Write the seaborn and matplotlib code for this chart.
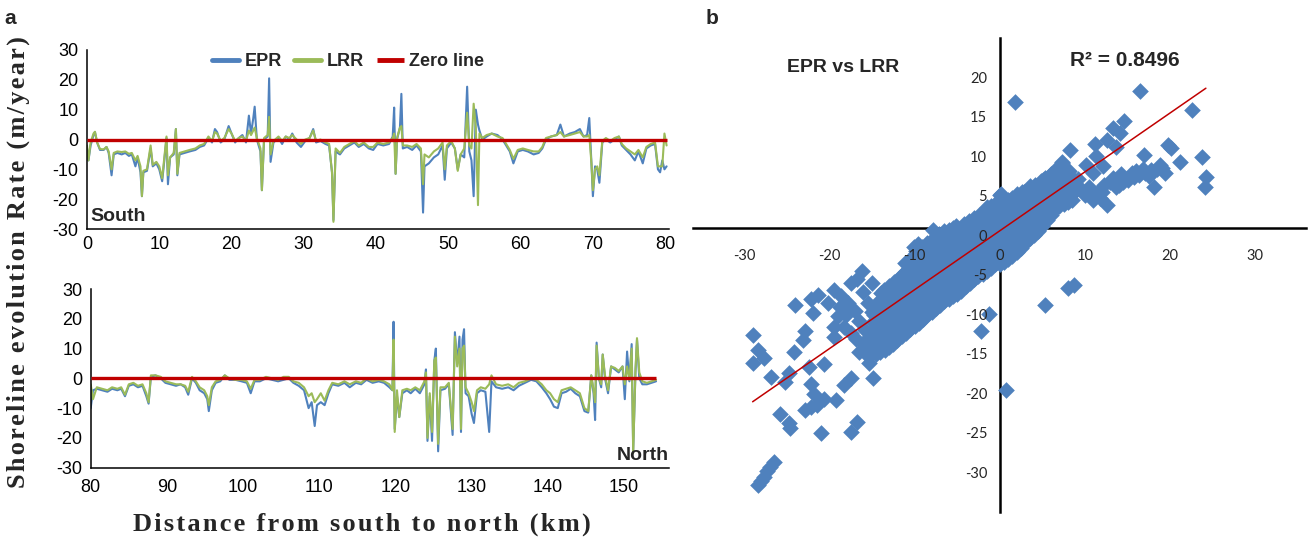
import numpy as np
import pandas as pd
import matplotlib
matplotlib.use("Agg")
import matplotlib.pyplot as plt
import seaborn as sns

BLUE = '#4F81BD'
GREEN = '#9BBB59'
RED = '#C00000'

# panel a, southern stretch (km, m/year)
south_km = [0.0, 0.2, 0.5, 0.9, 1.1, 1.4, 1.8, 2.3, 2.7, 3.0, 3.4, 3.7, 4.2, 4.8, 5.3, 5.8, 6.2, 6.7,
            7.0, 7.4, 7.6, 7.8, 8.3, 8.8, 9.1, 9.6, 10.0, 10.4, 10.7, 11.0, 11.2, 11.5, 12.0, 12.3,
            12.5, 12.8, 13.5, 14.2, 15.0, 15.6, 16.2, 16.8, 17.3, 17.7, 18.0, 18.5, 19.0, 19.6, 20.0,
            20.5, 21.0, 21.5, 22.0, 22.4, 22.7, 23.0, 23.2, 23.5, 24.0, 24.2, 24.5, 25.0, 25.2, 25.4,
            25.8, 26.5, 27.0, 27.5, 28.0, 28.4, 29.0, 29.6, 30.2, 30.8, 31.3, 31.7, 32.3, 33.0, 33.5,
            33.9, 34.1, 34.4, 35.0, 35.6, 36.3, 37.0, 37.6, 38.3, 39.0, 39.6, 40.2, 41.0, 41.8, 42.3,
            42.5, 42.7, 42.9, 43.3, 43.5, 43.7, 44.3, 45.0, 45.6, 46.2, 46.5, 46.7, 47.3, 48.0, 48.6,
            49.2, 49.5, 49.8, 50.4, 50.9, 51.3, 51.7, 52.2, 52.6, 52.9, 53.2, 53.5, 53.8, 54.1, 54.3,
            54.7, 55.3, 56.0, 56.8, 57.5, 58.0, 58.5, 59.0, 59.6, 60.3, 61.0, 61.8, 62.5, 63.0, 63.5,
            64.2, 65.0, 65.5, 66.0, 66.8, 67.5, 68.2, 68.7, 69.2, 69.5, 69.8, 70.0, 70.3, 70.6, 70.9,
            71.3, 71.8, 72.4, 73.0, 73.6, 74.0, 74.6, 75.2, 75.8, 76.3, 76.9, 77.4, 78.0, 78.6, 79.0,
            79.3, 79.6, 79.9, 80.2]
south_epr = [-3, -7, -2, 1.5, 2.5, -1, -3.5, -3.5, -2.5, -4.5, -12, -5, -4.5, -5, -4.5, -5.5, -5, -9,
             -6, -11, -19, -11, -10.5, -3, -9, -8, -10, -14, -7, 0.5, -15, -6, -5, 3.5,
             -12, -5, -4.5, -4, -3.5, -2.5, -2, 0.5, -1, 3.5, 2.5, -1, 0, 4.5, 2,
             -1, 0.5, 1.5, -1, 8, 2, 7, 11, 0, -4, -17, 0, 1, 20.5, -7.5,
             -1, 0.5, -1.5, 1, 0, 2, -1, -2.5, -0.5, 0.5, 3.5, -1, -0.5, -1.5, -2,
             -11, -27, -4, -5, -3, -2, -1, -2.5, -1.5, -3, -3.5, -1.5, -2, -1.5, 1,
             10.7, -11.5, 0, 4, 15.3, -3, -2.5, -3.5, -2, -4, -24.5, -9, -8, -6, -5,
             -2, -13.5, -3, -1, -3, -10, -5, -6, 17.7, -4, -7, -19, 10, 5, 3,
             0, 1, 2, 1.5, 0, -2, -4, -8, -4, -3.5, -4, -5, -4.5, -3, 0,
             1, 1.5, 5, 1, 2, 2.5, 3.5, 1, 1.5, 7.2, -8, -19, -9, -10, -14.5,
             -1, 0, -1, 0, 1, -2, -3.5, -5, -7, -4, -8, -3, -2, -1.5, -10,
             -11, -7, -10, -9]
south_lrr = [-2, -7, -1, 2.0, 2.6, -1, -3.2, -3.3, -2.5, -4, -10, -4.5, -4, -4.2, -4, -4.8, -4.5, -7,
             -5.5, -9, -19, -10.5, -10, -2, -8.5, -7.5, -9, -13, -6, 1.0, -12, -6, -4.5, 3.5,
             -11.5, -4.5, -4, -3.5, -3, -2, -1.5, 1.0, -0.5, 2.5, 2.0, -0.5, 0.5, 3.5, 2,
             -0.5, 0.5, 1, -0.5, 3, 1.5, 3, 4, 0.5, -3, -17, 0.5, 1.5, 7.6, -5,
             -0.5, 1, -0.5, 1, 0.5, 1.5, 0, -1.5, 0, 0.5, 3, -0.5, 0, -1, -1.5,
             -11, -27.6, -3, -4.5, -2.5, -1.5, -0.5, -2, -1, -2.5, -2.5, -1, -1.5, -1, 0.5,
             2, -11.5, 0.5, 4, 4.5, -2, -2, -2.5, -1.5, -3, -15, -5, -6, -4, -3,
             -1, -10, -2, -0.5, -3, -10.5, -5, -3, 9, -2, -3, 12, 4, -22, 2,
             0.5, 1.5, 2, 1, 0.5, -1.5, -3.5, -6.5, -3.5, -3, -3.5, -4, -4, -2.5, 0.5,
             1, 1.5, 2.5, 1, 1.5, 2, 2.5, 1, 1, 1.5, -8, -17, -10, -9, -12,
             -0.5, 0.5, -0.5, 0.5, 1, -1.5, -3, -4, -5, -3.5, -6, -2.5, -1.5, -1, -9,
             -9, -9, 2, -2]

# panel a, northern stretch
north_km = [80.0, 80.3, 80.8, 81.5, 82.2, 82.8, 83.5, 84.0, 84.5, 85.0, 85.6, 86.2, 86.8, 87.3, 87.6,
            87.9, 88.5, 89.2, 89.8, 90.5, 91.2, 91.8, 92.4, 92.8, 93.3, 93.8, 94.3, 94.9, 95.3, 95.5,
            95.9, 96.4, 97.0, 97.6, 98.2, 99.0, 99.8, 100.5, 101.0, 101.5, 102.2, 103.0, 103.8, 104.6,
            105.3, 106.0, 106.6, 107.3, 108.0, 108.6, 109.0, 109.4, 109.7, 110.2, 110.7, 111.2, 111.7,
            112.5, 113.3, 114.0, 114.8, 115.5, 116.2, 117.0, 117.8, 118.5, 119.2, 119.6, 119.75, 119.9,
            120.2, 120.5, 120.9, 121.5, 122.0, 122.6, 123.2, 123.8, 124.0, 124.2, 124.5, 124.8, 125.1,
            125.3, 125.6, 125.9, 126.5, 127.0, 127.5, 127.8, 128.1, 128.4, 128.6, 128.8, 129.0, 129.2,
            129.6, 130.0, 130.3, 130.7, 131.2, 131.8, 132.3, 132.6, 133.2, 134.0, 134.8, 135.5, 136.2,
            137.0, 137.8, 138.5, 139.2, 139.8, 140.3, 140.8, 141.3, 141.8, 142.4, 143.0, 143.6, 144.2,
            144.8, 145.3, 145.7, 146.0, 146.2, 146.4, 146.7, 147.0, 147.2, 147.5, 147.9, 148.3, 148.8,
            149.3, 149.8, 150.1, 150.4, 150.7, 151.0, 151.2, 151.5, 151.7, 152.0, 152.4, 153.0, 153.6,
            154.2]
north_epr = [-10, -4, -3.5, -4, -4.5, -3.5, -4, -3.5, -6, -2.5, -2, -3, -2.5, -6, -8.5,
             0.5, 1, 0, -1.5, -2, -2.5, -2, -3, -5.5, 0, -1.5, -4, -5, -7, -11,
             -4, -1.5, -1, 1, -0.5, -0.5, -1, -1.5, -5, -1, -1, 0, -0.5, -1,
             -0.5, 0, -1.5, -2.5, -4, -10, -8, -16, -9, -8, -9, -5, -2,
             -2.5, -1.5, -3, -1.5, -2, -0.5, -1.5, -1, -1.5, -3, -4, 19, -17,
             -6, -13, -5, -4, -5, -3.5, -5, -2, 3, -21, -6, -21, 6,
             10, -24.5, -4, -3.5, -2, -19, 15.5, 5, 14, -18, 13, 16.5, -5,
             -6, -12, -15, -5, -4, -4.5, -18, -1, -3, -3.5, -3, -4, -2.5,
             -1.5, -0.5, -1, -3, -5, -7, -9.5, -10, -5, -4.5, -3.5, -5, -6,
             -11, -11.5, 1, -5, -14, 12, 0, -3, 8, 0, -5, 4, 3,
             2, 4, -7, 9, -1, 11.5, -24, 2, 13, 0, -2, -2, -1.5,
             -1]
north_lrr = [-2, -7, -3, -3.5, -4, -3, -3.5, -3, -5.5, -2, -1.5, -2.5, -2, -5, -8,
             1, 1, 0.5, -1, -1.5, -2, -2, -2.5, -4.5, 0.5, -1, -3, -4, -6, -9,
             -3, -1, -0.5, 1, 0, -0.5, -0.5, -1, -3.5, -0.5, -0.5, 0.5, 0, -0.5,
             0.5, 0.5, -1, -1.5, -3, -6, -5, -8, -7, -5, -7.5, -4, -1.5,
             -2, -1, -2, -1, -1.5, 0, -1, -0.5, -1, -2, -4, 13, -18,
             -4, -13, -4, -3.5, -4, -3, -4, -1, 2, -20, -5, -18, 6,
             7, -22, -3, -3, -1.5, -17, 14, 4, 10, -17, 10, 11, -3,
             -5, -8, -11, -4, -3, -3.5, -2, 1, -2, -2.5, -2, -3, -1.5,
             -1, 0, -0.5, -2, -4, -5, -7, -8, -4, -3.5, -3, -4, -5,
             -10, -11, 1, -4, -8, 11, 0, -2, 8, 1, -4, 4, 3.5,
             2.5, 4, -2, 4, -0.5, 10, -25, 3, 13.5, 2, -1, -1.5, -1,
             -0.5]

# panel b, EPR vs LRR scatter; dense core of the cloud
core_pts = [
    (-15.5, -16.2), (-15.6, -15.0), (-15.4, -14.0),
    (-14.5, -16.0), (-14.6, -14.8), (-14.4, -13.5), (-14.5, -12.2), (-14.7, -10.8), (-14.4, -9.5),
    (-13.5, -15.4), (-13.6, -14.1), (-13.4, -12.8), (-13.5, -11.5), (-13.7, -10.2), (-13.4, -9.0), (-13.6, -7.8),
    (-12.5, -14.7), (-12.4, -13.4), (-12.6, -12.1), (-12.5, -10.8), (-12.3, -9.5), (-12.6, -8.2), (-12.4, -6.8),
    (-11.5, -13.7), (-11.6, -12.4), (-11.4, -11.1), (-11.5, -9.8), (-11.7, -8.5), (-11.4, -7.2), (-11.5, -5.9),
    (-10.5, -12.8), (-10.6, -11.5), (-10.4, -10.2), (-10.5, -8.9), (-10.3, -7.6), (-10.6, -6.3), (-10.4, -5.0), (-10.2, -3.7),
    (-9.5, -12.0), (-9.6, -10.7), (-9.4, -9.4), (-9.5, -8.1), (-9.7, -6.8), (-9.4, -5.5), (-9.6, -4.2), (-9.8, -2.9), (-9.6, -2.0),
    (-8.5, -11.0), (-8.4, -9.7), (-8.6, -8.4), (-8.5, -7.1), (-8.3, -5.8), (-8.6, -4.5), (-8.4, -3.2), (-8.5, -1.9),
    (-7.5, -10.1), (-7.6, -8.8), (-7.4, -7.5), (-7.5, -6.2), (-7.7, -4.9), (-7.4, -3.6), (-7.6, -2.3), (-7.8, -0.3),
    (-6.5, -9.3), (-6.4, -8.0), (-6.6, -6.7), (-6.5, -5.4), (-6.3, -4.1), (-6.6, -2.8), (-6.4, -1.5), (-6.5, -0.4),
    (-5.5, -8.6), (-5.6, -7.3), (-5.4, -6.0), (-5.5, -4.7), (-5.7, -3.4), (-5.4, -2.1), (-5.6, -0.8), (-5.5, 0.0),
    (-4.5, -8.0), (-4.4, -6.7), (-4.6, -5.4), (-4.5, -4.1), (-4.3, -2.8), (-4.6, -1.5), (-4.4, -0.2), (-4.2, 0.5),
    (-3.5, -6.9), (-3.6, -5.6), (-3.4, -4.3), (-3.5, -3.0), (-3.7, -1.7), (-3.4, -0.4), (-3.6, 0.9),
    (-2.5, -6.1), (-2.4, -4.8), (-2.6, -3.5), (-2.5, -2.2), (-2.3, -0.9), (-2.6, 0.4), (-2.4, 1.7),
    (-1.5, -5.4), (-1.6, -4.1), (-1.4, -2.8), (-1.5, -1.5), (-1.7, -0.2), (-1.4, 1.1), (-1.5, 2.6),
    (-0.5, -4.6), (-0.4, -3.3), (-0.6, -2.0), (-0.5, -0.7), (-0.3, 0.6), (-0.6, 1.9), (-0.4, 3.2),
    (0.5, -4.3), (0.6, -3.0), (0.4, -1.7), (0.5, -0.4), (0.7, 0.9), (0.4, 2.2), (0.6, 3.5), (0.1, 4.3),
    (1.5, -3.5), (1.4, -2.2), (1.6, -0.9), (1.5, 0.4), (1.3, 1.7), (1.6, 3.0), (1.4, 3.8),
    (2.5, -2.5), (2.6, -1.2), (2.4, 0.1), (2.5, 1.4), (2.7, 2.7), (2.4, 4.0), (2.6, 4.5),
    (3.5, -1.3), (3.4, 0.0), (3.6, 1.3), (3.5, 2.6), (3.3, 3.9), (3.6, 5.3),
    (4.5, -0.4), (4.6, 0.9), (4.4, 2.2), (4.5, 3.5), (4.7, 4.8), (4.9, 6.0),
    (5.5, 1.0), (5.4, 2.3), (5.6, 3.6), (5.5, 4.9), (5.3, 6.3),
    (6.5, 2.4), (6.6, 3.7), (6.4, 5.0), (6.5, 6.3), (6.4, 7.2),
    (7.5, 3.1), (7.4, 4.4), (7.6, 5.7), (7.5, 7.0), (7.3, 8.4),
    (8.5, 3.6), (8.6, 5.0), (8.4, 6.5),
]
# in-between points of the same core
core_fill_pts = [
    (-15.0, -15.8), (-15.0, -14.5), (-15.1, -13.2), (-14.9, -11.9), (-15.0, -10.6),
    (-14.0, -15.7), (-14.0, -14.4), (-14.1, -13.1), (-13.9, -11.8), (-14.0, -10.5), (-14.1, -9.2), (-13.9, -8.2),
    (-13.0, -15.1), (-13.0, -13.8), (-12.9, -12.5), (-13.1, -11.2), (-13.0, -9.9), (-12.9, -8.6), (-13.0, -7.4),
    (-12.0, -14.2), (-12.0, -12.9), (-12.1, -11.6), (-11.9, -10.3), (-12.0, -9.0), (-12.1, -7.7), (-11.9, -6.4),
    (-11.0, -13.3), (-11.0, -12.0), (-10.9, -10.7), (-11.1, -9.4), (-11.0, -8.1), (-10.9, -6.8), (-11.0, -5.5), (-11.1, -4.4),
    (-10.0, -12.4), (-10.0, -11.1), (-10.1, -9.8), (-9.9, -8.5), (-10.0, -7.2), (-10.1, -5.9), (-9.9, -4.6), (-10.0, -3.3), (-10.1, -2.4),
    (-9.0, -11.5), (-9.0, -10.2), (-8.9, -8.9), (-9.1, -7.6), (-9.0, -6.3), (-8.9, -5.0), (-9.0, -3.7), (-9.1, -2.4),
    (-8.0, -10.6), (-8.0, -9.3), (-8.1, -8.0), (-7.9, -6.7), (-8.0, -5.4), (-8.1, -4.1), (-7.9, -2.8), (-8.0, -1.5),
    (-7.0, -9.7), (-7.0, -8.4), (-6.9, -7.1), (-7.1, -5.8), (-7.0, -4.5), (-6.9, -3.2), (-7.0, -1.9), (-7.1, -0.8),
    (-6.0, -9.0), (-6.0, -7.7), (-6.1, -6.4), (-5.9, -5.1), (-6.0, -3.8), (-6.1, -2.5), (-5.9, -1.2), (-6.0, -0.2),
    (-5.0, -8.3), (-5.0, -7.0), (-4.9, -5.7), (-5.1, -4.4), (-5.0, -3.1), (-4.9, -1.8), (-5.0, -0.5), (-5.1, 0.3),
    (-4.0, -7.4), (-4.0, -6.1), (-4.1, -4.8), (-3.9, -3.5), (-4.0, -2.2), (-4.1, -0.9), (-3.9, 0.4),
    (-3.0, -6.5), (-3.0, -5.2), (-2.9, -3.9), (-3.1, -2.6), (-3.0, -1.3), (-2.9, 0.0), (-3.0, 1.3),
    (-2.0, -5.8), (-2.0, -4.5), (-2.1, -3.2), (-1.9, -1.9), (-2.0, -0.6), (-2.1, 0.7), (-1.9, 2.0),
    (-1.0, -5.0), (-1.0, -3.7), (-0.9, -2.4), (-1.1, -1.1), (-1.0, 0.2), (-0.9, 1.5), (-1.0, 2.8),
    (0.0, -4.5), (0.0, -3.2), (0.1, -1.9), (-0.1, -0.6), (0.0, 0.7), (0.1, 2.0), (-0.1, 3.3), (0.0, 4.2),
    (1.0, -3.9), (1.0, -2.6), (0.9, -1.3), (1.1, 0.0), (1.0, 1.3), (0.9, 2.6), (1.0, 3.6),
    (2.0, -3.0), (2.0, -1.7), (2.1, -0.4), (1.9, 0.9), (2.0, 2.2), (2.1, 3.5), (2.0, 4.3),
    (3.0, -1.9), (3.0, -0.6), (2.9, 0.7), (3.1, 2.0), (3.0, 3.3), (2.9, 4.6),
    (4.0, -0.9), (4.0, 0.4), (4.1, 1.7), (3.9, 3.0), (4.0, 4.3), (4.1, 5.5),
    (5.0, 0.3), (5.0, 1.6), (4.9, 2.9), (5.1, 4.2), (5.0, 5.5), (5.1, 6.1),
    (6.0, 1.7), (6.0, 3.0), (6.1, 4.3), (5.9, 5.6), (6.0, 6.8),
    (7.0, 2.8), (7.0, 4.1), (6.9, 5.4), (7.1, 6.7), (7.0, 7.6),
    (8.0, 3.3), (8.0, 4.6), (7.9, 5.9), (8.1, 7.2),
]
# scattered points south-west of the core
low_pts = [
    (-24.0, -9.7), (-21.9, -10.8), (-22.2, -9.0), (-21.3, -8.5), (-19.4, -7.8), (-17.4, -7.0),
    (-16.2, -5.5), (-16.0, -8.1), (-17.8, -9.5), (-19.0, -11.2), (-19.4, -12.5), (-18.3, -12.5),
    (-16.1, -14.5), (-16.5, -15.7), (-16.9, -14.0), (-19.4, -13.8), (-18.6, -8.6), (-17.0, -10.5),
    (-18.0, -11.0), (-16.5, -11.8), (-17.5, -13.3), (-15.8, -12.9), (-15.0, -7.0), (-15.5, -9.5),
    (-14.8, -11.0), (-16.8, -6.5), (-18.8, -10.0), (-20.2, -9.5), (-15.3, -17.1), (-14.9, -19.0),
    (-20.6, -17.2), (-22.4, -17.6), (-22.9, -13.1), (-23.1, -14.2), (-24.2, -15.7), (-22.2, -19.7),
    (-25.2, -19.5), (-24.7, -18.4), (-26.8, -18.9), (-17.4, -19.0), (-18.3, -19.9), (-19.2, -21.8),
    (-20.6, -21.6), (-22.2, -22.6), (-22.9, -23.0), (-21.4, -22.4), (-21.8, -21.0), (-16.7, -24.5),
    (-17.5, -25.8), (-21.0, -26.0), (-24.7, -24.7), (-25.8, -23.6), (-24.6, -25.3), (-28.9, -13.5),
    (-28.4, -15.4), (-27.7, -16.5), (-29.0, -17.1), (-28.4, -32.5), (-27.7, -31.5), (-27.0, -30.2),
    (-26.5, -29.6), (-27.3, -30.8), (-28.0, -32.0),
]
# scattered points north-east of the core
high_pts = [
    (1.8, 16.0), (16.5, 17.4), (22.6, 14.9), (14.6, 13.6), (13.3, 12.6), (14.1, 12.0), (12.6, 11.1),
    (13.6, 10.3), (11.2, 10.6), (8.2, 9.9), (16.9, 9.2), (20.1, 10.1), (19.8, 10.5), (21.2, 8.3),
    (23.8, 9.0), (24.2, 6.5), (24.1, 5.2), (11.3, 9.1), (10.1, 8.0), (11.0, 6.9), (12.1, 7.8),
    (7.3, 8.2), (9.6, 5.0), (11.0, 3.5), (12.6, 2.9), (13.7, 5.2), (15.1, 6.1), (16.4, 6.7),
    (17.8, 7.3), (19.0, 7.6), (19.4, 6.9), (18.1, 5.2), (13.3, 6.3), (11.4, 4.4), (10.5, 5.2),
    (8.2, 4.0), (14.5, 5.8), (15.8, 6.4), (17.0, 7.0), (18.5, 7.5), (12.2, 5.5), (11.8, 3.8),
    (9.0, 4.8), (16.0, 7.2), (13.0, 5.8), (14.2, 6.8), (17.5, 6.6), (18.8, 8.0), (6.8, 3.5),
    (10.0, 4.2), (12.0, 4.6), (15.5, 6.9), (16.8, 7.5), (14.0, 5.4), (9.2, 6.2),
    (8.7, -7.2), (8.0, -7.6), (5.3, -9.7), (-1.3, -10.9), (-2.2, -13.1), (0.7, -20.5),
]

trend_slope = 0.746
trend_intercept = -0.36
trend_x = [-29.0, 24.2]
r_squared = 0.8496

TICK_FONT = ['Liberation Sans', 'DejaVu Sans']
SERIF = ['Liberation Serif', 'DejaVu Serif']
HAIR = '\u200a'


def spaced(text):
    # the source figure sets its axis titles with loose letter spacing
    return HAIR.join(text)


def draw_profile(ax, km, epr, lrr, xlim, xticks, tag, tag_right, x_pad, show_legend):
    df = pd.DataFrame({'km': km, 'EPR': epr, 'LRR': lrr})
    sns.lineplot(data=df, x='km', y='EPR', ax=ax, color=BLUE, lw=1.5, label='EPR',
                 estimator=None, sort=False, legend=False)
    sns.lineplot(data=df, x='km', y='LRR', ax=ax, color=GREEN, lw=1.5, label='LRR',
                 estimator=None, sort=False, legend=False)
    ax.hlines(0, min(km), max(km), color=RED, lw=2.4, zorder=5, label='Zero line')

    ax.set_xlim(*xlim)
    ax.set_ylim(-30, 30)
    ax.set_xticks(xticks)
    ax.set_xticklabels([str(t) for t in xticks], fontfamily=TICK_FONT, fontsize=13)
    yt = list(range(-30, 31, 10))
    ax.set_yticks(yt)
    ax.set_yticklabels([str(t) for t in yt], fontfamily=TICK_FONT, fontsize=13)
    ax.tick_params(axis='y', direction='out', length=4, width=1, pad=2, colors='black')
    ax.tick_params(axis='x', direction='out', length=4, width=1, pad=x_pad, colors='black')
    ax.set_xlabel('')
    ax.set_ylabel('')
    sns.despine(ax=ax)
    for side in ['left', 'bottom']:
        ax.spines[side].set_color('black')
        ax.spines[side].set_linewidth(1.1)

    if tag_right:
        ax.text(1.0, 0.02, tag, transform=ax.transAxes, ha='right', va='bottom',
                fontsize=14, fontweight='bold')
    else:
        ax.text(0.005, 0.02, tag, transform=ax.transAxes, ha='left', va='bottom',
                fontsize=14, fontweight='bold')

    if show_legend:
        leg = ax.legend(loc='center', bbox_to_anchor=(0.448, 0.935), ncol=3, frameon=False,
                        prop={'weight': 'bold', 'size': 13}, handlelength=1.5,
                        handletextpad=0.3, columnspacing=0.7, borderpad=0)
        for h in leg.get_lines():
            h.set_linewidth(3.5)


def main():
    sns.set_theme(style='white')
    plt.rcParams['font.family'] = ['Liberation Sans', 'DejaVu Sans']

    W, H = 1310, 540
    fig = plt.figure(figsize=(W / 100, H / 100), dpi=100)

    ax_s = fig.add_axes([87 / W, 1 - 229 / H, (669.5 - 87) / W, (229 - 50) / H])
    draw_profile(ax_s, south_km, south_epr, south_lrr, (0, 80.6), list(range(0, 81, 10)),
                 'South', False, 1, True)

    ax_n = fig.add_axes([90.7 / W, 1 - 467.7 / H, (669 - 90.7) / W, (467.7 - 289) / H])
    draw_profile(ax_n, north_km, north_epr, north_lrr, (80, 155.9), list(range(80, 151, 10)),
                 'North', True, 4, False)

    fig.text(18 / W, 1 - 262 / H, spaced('Shoreline evolution Rate (m/year)'), rotation=90,
             ha='center', va='center', fontsize=19, fontweight='bold', family=SERIF)
    fig.text(362 / W, 1 - 524 / H, spaced('Distance from south to north (km)'),
             ha='center', va='center', fontsize=19, fontweight='bold', family=SERIF)
    fig.text(10 / W, 1 - 19 / H, 'a', ha='center', va='center', fontsize=15, fontweight='bold')
    fig.text(712 / W, 1 - 19 / H, 'b', ha='center', va='center', fontsize=15, fontweight='bold')

    # panel b
    pts = np.array(core_pts + core_fill_pts + low_pts + high_pts)
    ax = fig.add_axes([693 / W, 1 - 512.4 / H, 613.4 / W, 474 / H])
    sns.scatterplot(x=pts[:, 0], y=pts[:, 1], ax=ax, marker='D', s=72, color=BLUE,
                    linewidth=0, alpha=1, zorder=3)
    tx = np.array(trend_x)
    ax.plot(tx, trend_slope * tx + trend_intercept, color=RED, lw=1.1, zorder=4)

    ax.set_xlim(-36, 36)
    ax.set_ylim(-36, 24)
    for side in ['top', 'right']:
        ax.spines[side].set_visible(False)
    for side in ['left', 'bottom']:
        ax.spines[side].set_position(('data', 0))
        ax.spines[side].set_color('black')
        ax.spines[side].set_linewidth(1.8)

    ax.xaxis.remove_overlapping_locs = False
    ax.yaxis.remove_overlapping_locs = False
    ax.set_xticks(list(range(-24, 37, 12)))
    ax.set_xticklabels([])
    ax.set_yticks(list(range(-36, 25, 6)))
    ax.set_yticklabels([])
    ax.tick_params(which='major', direction='out', length=4.5, width=1.8, colors='black')

    xlab = list(range(-30, 31, 10))
    ax.set_xticks(xlab, minor=True)
    ax.set_xticklabels([str(v) for v in xlab], minor=True, fontfamily=['Lato', 'DejaVu Sans'],
                       fontsize=10.5)
    ylab = list(range(20, -31, -5))
    ax.set_yticks([v - 0.9 for v in ylab], minor=True)
    ax.set_yticklabels([str(v) for v in ylab], minor=True, fontfamily=['Lato', 'DejaVu Sans'],
                       fontsize=10.5)
    ax.tick_params(axis='x', which='minor', length=0, pad=15)
    ax.tick_params(axis='y', which='minor', length=0, pad=9)
    ax.xaxis.set_zorder(3.5)
    ax.yaxis.set_zorder(3.5)
    ax.grid(False)

    fig.text(843 / W, 1 - 68 / H, 'EPR vs LRR', ha='center', va='center', fontsize=14,
             fontweight='bold')
    fig.text(1125 / W, 1 - 60 / H, 'R² = ' + f'{r_squared:.4f}', ha='center', va='center',
             fontsize=15, fontweight='bold')

    fig.savefig('out.png', dpi=100)


if __name__ == "__main__":
    main()
